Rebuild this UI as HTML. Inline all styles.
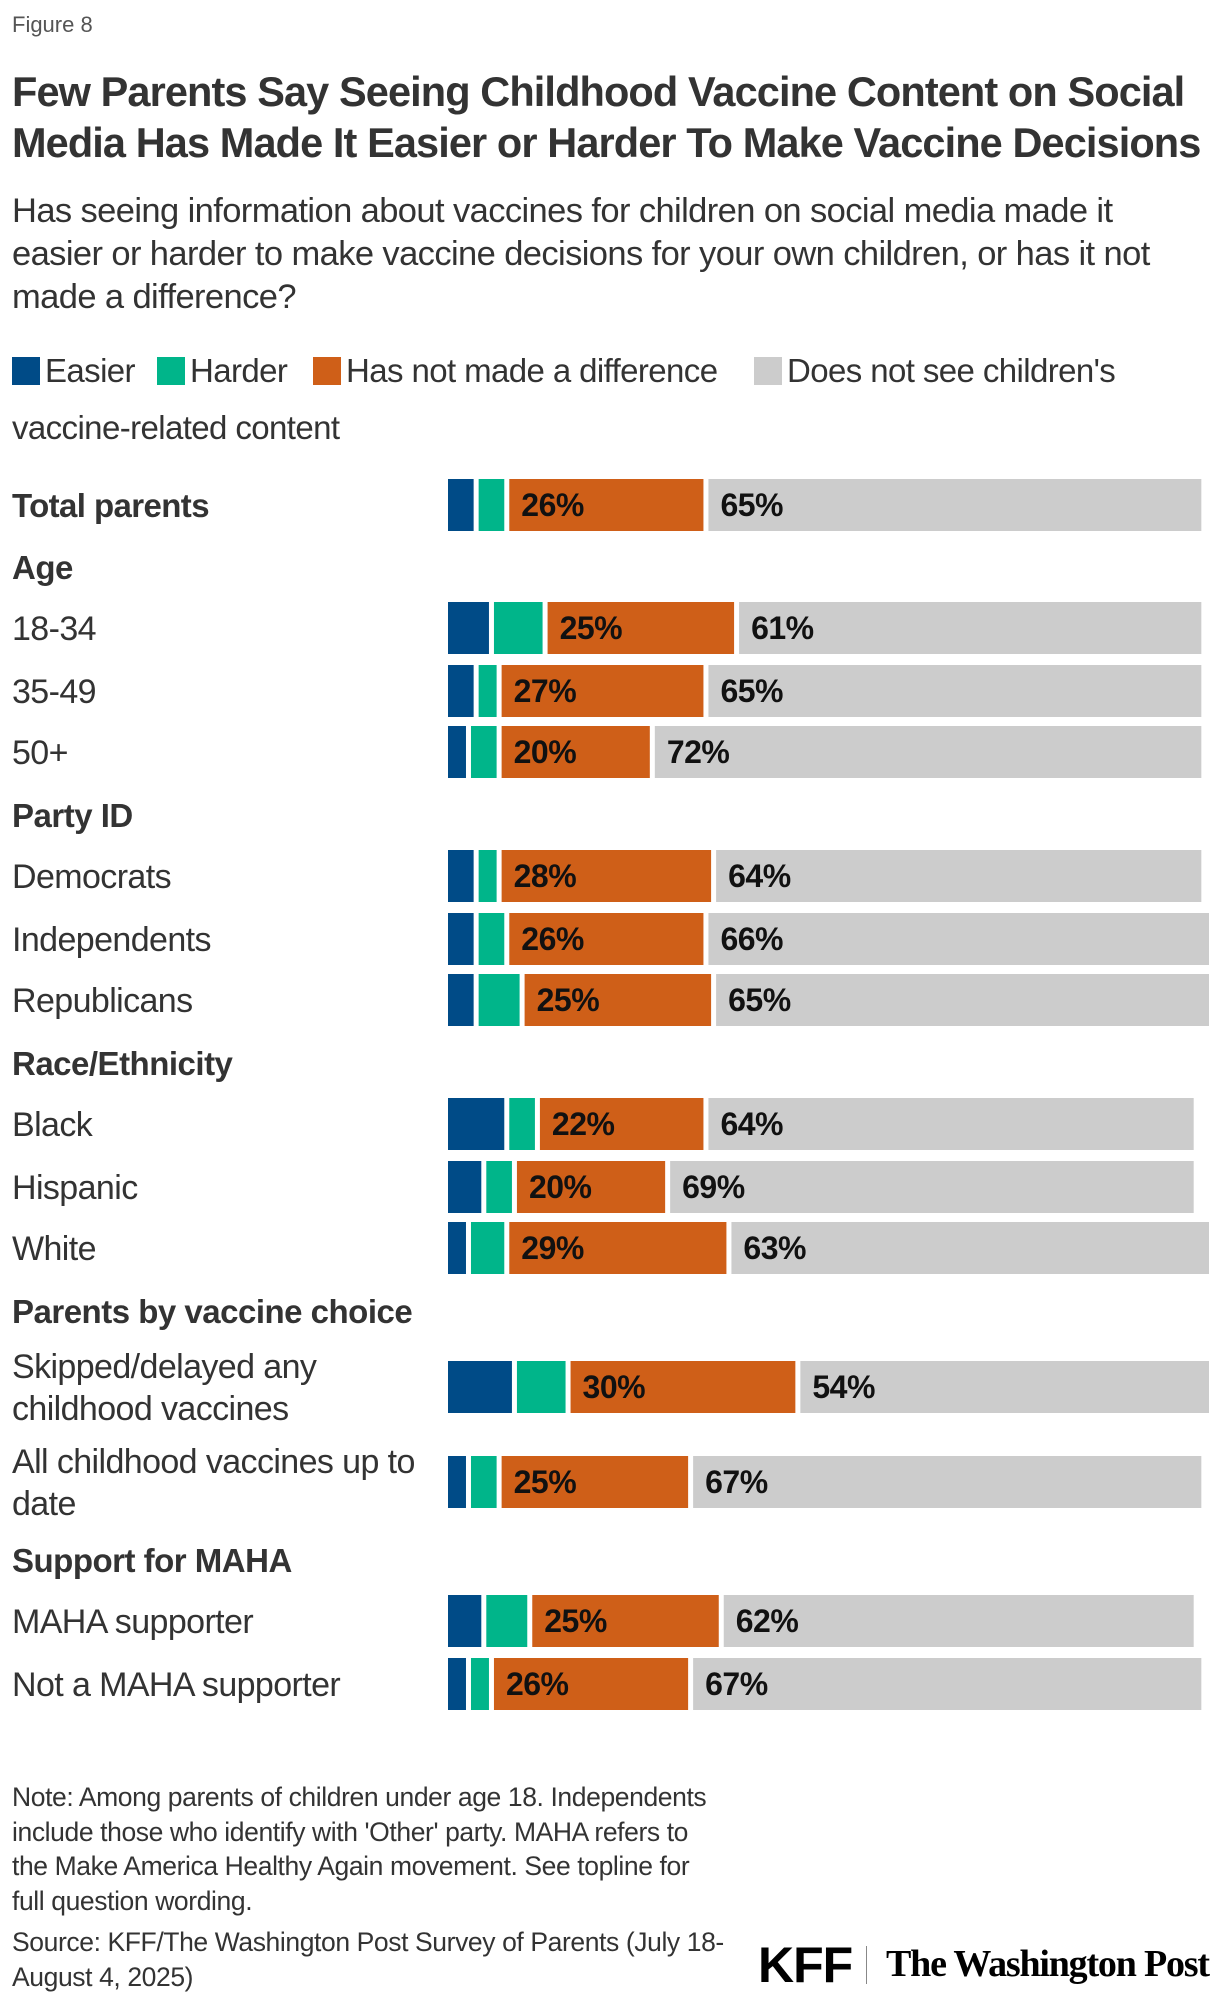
<!DOCTYPE html>
<html><head><meta charset="utf-8"><style>
html,body{margin:0;padding:0;background:#fff;}
body{width:1220px;height:2006px;position:relative;overflow:hidden;font-family:"Liberation Sans",sans-serif;color:#333;}
.t{position:absolute;left:12px;white-space:nowrap;}
</style></head><body>
<div class="t" style="top:12px;font-size:22px;color:#555;">Figure 8</div>
<div class="t" style="top:66px;font-size:41.5px;font-weight:bold;line-height:51px;letter-spacing:-0.9px;color:#333;">Few Parents Say Seeing Childhood Vaccine Content on Social<br>Media Has Made It Easier or Harder To Make Vaccine Decisions</div>
<div class="t" style="top:190px;font-size:34.5px;line-height:43px;letter-spacing:-0.6px;color:#333;">Has seeing information about vaccines for children on social media made it<br>easier or harder to make vaccine decisions for your own children, or has it not<br>made a difference?</div>
<svg width="1220" height="2006" style="position:absolute;left:0;top:0">
<g id="legend"></g>
<g id="rows"></g>
</svg>
<div class="t" style="top:1780px;font-size:26.5px;line-height:34.5px;letter-spacing:-0.4px;color:#333;">Note: Among parents of children under age 18. Independents<br>include those who identify with 'Other' party. MAHA refers to<br>the Make America Healthy Again movement. See topline for<br>full question wording.</div>
<div class="t" style="top:1925px;font-size:26.5px;line-height:34.5px;letter-spacing:-0.4px;color:#333;">Source: KFF/The Washington Post Survey of Parents (July 18-<br>August 4, 2025)</div>
<div style="position:absolute;left:758px;top:1936px;font-size:50px;font-weight:bold;color:#000;letter-spacing:-1px;">KFF</div>
<div style="position:absolute;left:866px;top:1946px;width:1px;height:38px;background:#888;"></div>
<div style="position:absolute;left:886px;top:1942px;font-family:'Liberation Serif',serif;font-size:38px;font-weight:bold;color:#000;white-space:nowrap;letter-spacing:-1.2px;">The Washington Post</div>
<script>
const categories = ["Total parents","18-34","35-49","50+","Democrats","Independents","Republicans","Black","Hispanic","White","Skipped/delayed any|childhood vaccines","All childhood vaccines up to|date","MAHA supporter","Not a MAHA supporter"];
const easier = [4,6,4,3,4,4,4,8,5,3,9,3,5,3];
const harder = [4,7,3,4,3,4,6,4,4,5,7,4,6,3];
const noDifference = [26,25,27,20,28,26,25,22,20,29,30,25,25,26];
const doesNotSee = [65,61,65,72,64,66,65,64,69,63,54,67,62,67];
const groupHeaders = ["Age","Party ID","Race/Ethnicity","Parents by vaccine choice","Support for MAHA"];
const seriesNames = ["Easier","Harder","Has not made a difference","Does not see children's"];
const colors = ["#004B87","#00B58A","#CF5F18","#CCCCCC"];
const NS="http://www.w3.org/2000/svg";
const x0=448, pxPer=7.66, gap=5, barH=52;
function xScale(v){return x0+v*pxPer;}
const rowY=[505,628,691,752,876,939,1000,1124,1187,1248,1387,1482,1621,1684];
const headerY=[567,815,1063,1311,1560];
function mk(tag,attrs,parent){const e=document.createElementNS(NS,tag);for(const k in attrs)e.setAttribute(k,attrs[k]);parent.appendChild(e);return e;}
const rows=document.getElementById('rows');
const lg=document.getElementById('legend');
const legX=[12,157,313,754];
seriesNames.forEach((n,i)=>{
  const r=mk('rect',{x:legX[i],y:357,width:28,height:28,fill:colors[i]},lg);
  
  
  const t=mk('text',{x:legX[i]+33,y:382,'font-size':33,fill:'#333','letter-spacing':'-0.6'},lg);
  t.textContent=n;
  
  
});
const t2=mk('text',{x:12,y:439,'font-size':33,fill:'#333','letter-spacing':'-0.6'},lg);
t2.textContent="vaccine-related content";


groupHeaders.forEach((h,i)=>{
  const t=mk('text',{x:12,y:headerY[i]+12,'font-size':33,'font-weight':'bold',fill:'#333','letter-spacing':'-0.5'},rows);
  t.textContent=h;
  
  
});
categories.forEach((c,i)=>{
  const y=rowY[i];
  const lines=c.split('|');
  lines.forEach((ln,j)=>{
    const off=lines.length>1?(j===0?-21:21):0;
    const t=mk('text',{x:12,y:y+off+12,'font-size':i===0?33:34,'font-weight':i===0?'bold':'normal',fill:'#333','letter-spacing':'-0.6'},rows);
    t.textContent=ln;
    
    
  });
  const vals=[easier[i],harder[i],noDifference[i],doesNotSee[i]];
  let cum=0;
  vals.forEach((v,k)=>{
    const xa=xScale(cum), w=v*pxPer-gap;
    const r=mk('rect',{x:xa,y:y-barH/2,width:Math.max(w,1),height:barH,fill:colors[k]},rows);
    
    
    if(k>=2){
      const t=mk('text',{x:xa+12,y:y+11,'font-size':32,'font-weight':'bold',fill:'#111','letter-spacing':'-0.5'},rows);
      t.textContent=v+'%';
      
      
    }
    cum+=v;
  });
});
</script>
</body></html>
